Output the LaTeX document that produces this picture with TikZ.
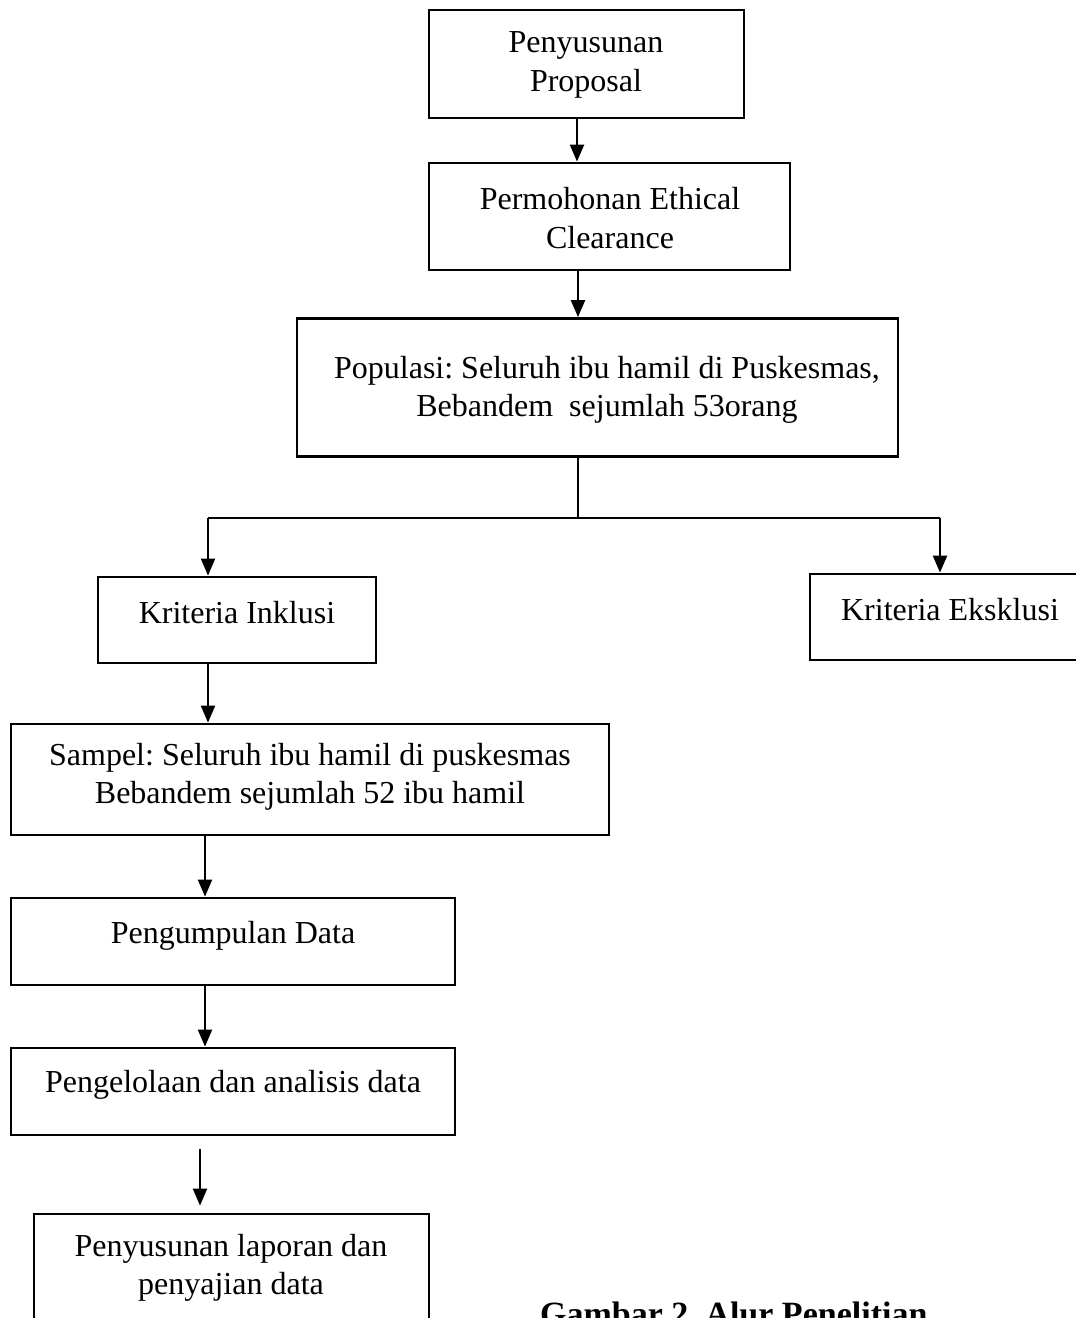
\documentclass[tikz,border=0pt]{standalone}
\usepackage{fontspec}
\setmainfont{Liberation Serif}
\usetikzlibrary{arrows.meta}

\tikzset{
  kotak/.style={draw, line width=2.8pt, inner sep=0pt},
  teks/.style={align=center, inner sep=0pt, font=\fontsize{32}{38.5}\selectfont},
  panah/.style={-{Triangle[length=17pt,width=14pt]}, line width=2.2pt}
}

\begin{document}
\frenchspacing
\begin{tikzpicture}[x=1pt,y=-1pt]

  \useasboundingbox (0,0) rectangle (1076,1318);

  % Boxes
  \node[kotak, minimum width=315, minimum height=108] (proposal) at (586.5,64) {};
  \node[kotak, minimum width=361, minimum height=107] (ethical) at (609.5,216.5) {};
  \node[kotak, minimum width=601, minimum height=138] (populasi) at (597.5,387.5) {};
  \node[kotak, minimum width=278, minimum height=86] (inklusi) at (237,620) {};
  \node[kotak, minimum width=280, minimum height=86] (eksklusi) at (950,617) {};
  \node[kotak, minimum width=598, minimum height=111] (sampel) at (310,779.5) {};
  \node[kotak, minimum width=444, minimum height=87] (pengumpulan) at (233,941.5) {};
  \node[kotak, minimum width=444, minimum height=87] (pengelolaan) at (233,1091.5) {};
  \node[kotak, minimum width=395, minimum height=112] (laporan) at (231.5,1270) {};

  % Texts
  \node[teks] (tproposal) at (586,65) {Penyusunan\\Proposal};
  \node[teks] (tethical) at (610,218) {Permohonan Ethical\\Clearance};
  \node[teks] (tpopulasi) at (607,390) {Populasi: Seluruh ibu hamil di Puskesmas,\\Bebandem\ \ sejumlah 53orang};
  \node[teks] (tinklusi) at (237,613) {Kriteria Inklusi};
  \node[teks] (teksklusi) at (950,610) {Kriteria Eksklusi};
  \node[teks] (tsampel) at (310,777) {Sampel: Seluruh ibu hamil di puskesmas\\Bebandem sejumlah 52 ibu hamil};
  \node[teks] (tpengumpulan) at (233,936) {Pengumpulan Data};
  \node[teks] (tpengelolaan) at (233,1085) {Pengelolaan dan analisis data};
  \node[teks] (tlaporan) at (231,1268) {Penyusunan laporan dan\\penyajian data};

  % Caption
  \node[teks, font=\fontsize{34}{40}\selectfont\bfseries, anchor=base west] (judul) at (540,1325) {Gambar 2. Alur Penelitian};

  % Straight arrows
  \foreach \a/\b/\x in {proposal/ethical/577, ethical/populasi/578, inklusi/sampel/208,
                        sampel/pengumpulan/205, pengumpulan/pengelolaan/205}
      {\draw[panah] (\a.south -| \x,0) -- (\b.north -| \x,0);}
  \draw[panah, shorten <=13pt, shorten >=7pt] (pengelolaan.south -| 200,0) -- (laporan.north -| 200,0);

  % Branch to the criteria
  \coordinate (cabang) at (578,518);
  \coordinate (kiri) at (208,518);
  \coordinate (kanan) at (940,518);
  \draw[line width=1.5pt] (populasi.south -| cabang) -- (cabang);
  \draw[line width=2.8pt] (kiri) -- (kanan);
  \draw[panah] (kiri) -- (inklusi.north -| kiri);
  \draw[panah] (kanan) -- (eksklusi.north -| kanan);

\end{tikzpicture}
\end{document}
